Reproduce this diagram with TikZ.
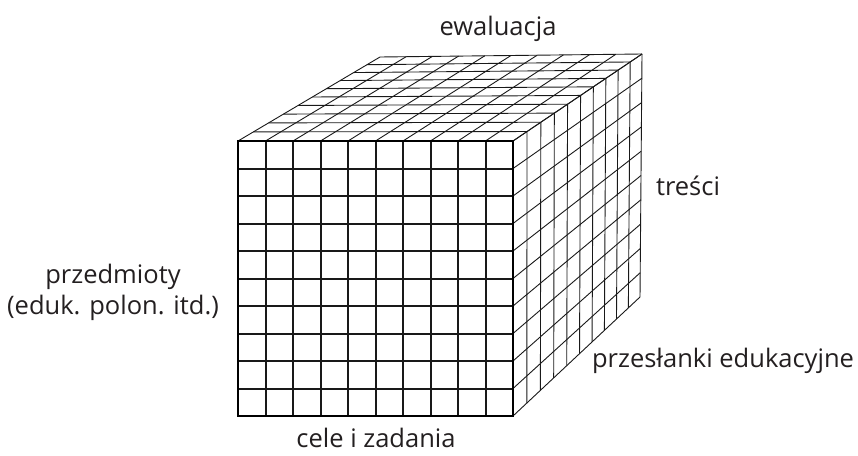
\documentclass[tikz,border=0pt]{standalone}
\usepackage{fontspec}
\setmainfont{Open Sans}
\usetikzlibrary{calc}
\definecolor{ink}{HTML}{231F20}
\tikzset{
  thin grid/.style={line width=0.9pt, draw=black!90},
  front grid/.style={line width=2pt, draw=black!90},
  front rim/.style={line width=2.8pt, draw=black, line join=miter},
  axis label/.style={font=\fontsize{25.5}{31}\selectfont, text=ink, inner sep=0pt},
}
\begin{document}
\begin{tikzpicture}[x=1pt,y=-1pt]
\useasboundingbox (0,0) rectangle (858,455);

% corners of the cube
\coordinate (ftl) at (238,141);
\coordinate (ftr) at (513,141);
\coordinate (fbr) at (513,416);
\coordinate (fbl) at (238,416);
\coordinate (btl) at (380,57);
\coordinate (btr) at (642,54);
\coordinate (bbr) at (640,297);

% top face
\foreach \i in {0,...,10}{
  \pgfmathsetmacro{\f}{1.1*\i/10/(1+0.1*\i/10)}
  \draw[thin grid] ($(ftl)!{\i/10}!(ftr)$) -- ($(btl)!{\i/10}!(btr)$);
  \draw[thin grid] ($(ftl)!\f!(btl)$) -- ($(ftr)!\f!(btr)$);
}

% side face
\foreach \i in {0,...,10}{
  \pgfmathsetmacro{\f}{1.1*\i/10/(1+0.1*\i/10)}
  \draw[thin grid] ($(ftr)!{\i/10}!(fbr)$) -- ($(btr)!{\i/10}!(bbr)$);
  \draw[thin grid] ($(ftr)!\f!(btr)$) -- ($(fbr)!\f!(bbr)$);
}

% front face (grid on whole pixels)
\fill[white] (ftl) rectangle (fbr);
\foreach \i in {1,...,9}{
  \pgfmathsetmacro{\p}{round(27.5*\i)}
  \draw[front grid] ($(ftl)+(\p,0)$) -- ($(fbl)+(\p,0)$);
  \draw[front grid] ($(ftl)+(0,\p)$) -- ($(ftr)+(0,\p)$);
}
\draw[front rim] (ftl) rectangle (fbr);

% labels
\node[axis label, anchor=base] (eval) at (498,35) {ewaluacja};
\node[axis label, anchor=base] (content) at (688,195) {treści};
\node[axis label, align=center] (subjects) at (113,292) {przedmioty\\(eduk. polon. itd.)};
\node[axis label, anchor=base] (goals) at (376,447) {cele i zadania};
\node[axis label, anchor=base] (premises) at (723,367) {przesłanki edukacyjne};

\end{tikzpicture}
\end{document}
